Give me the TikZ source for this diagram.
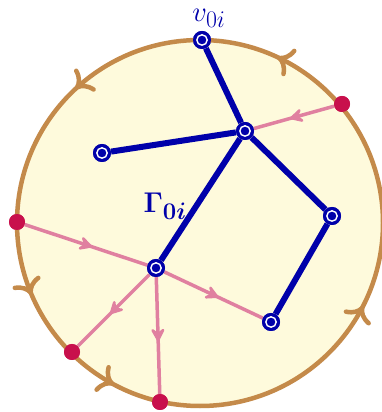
\documentclass[tikz,border=0pt]{standalone}
\usepackage{bm}
\usetikzlibrary{arrows.meta,decorations.markings}
\definecolor{cfill}{RGB}{254,250,220}
\definecolor{cedge}{RGB}{196,138,74}
\definecolor{myblue}{RGB}{0,0,170}
\definecolor{mypink}{RGB}{224,128,160}
\definecolor{myred}{RGB}{200,16,76}
\begin{document}
\begin{tikzpicture}[x=1pt,y=1pt,
  bnode/.style={circle, fill=myblue, minimum size=18pt, inner sep=0pt,
    path picture={\draw[white, line width=1.4pt] (path picture bounding box.center) circle (5.2pt);}},
  rdot/.style={circle, fill=myred, minimum size=16pt, inner sep=0pt},
  bedge/.style={draw=myblue, line width=6pt},
  pedge/.style={color=mypink, line width=3.5pt, postaction={decorate},
    decoration={markings, mark=at position 0.55 with {\arrow{Stealth[length=17pt,width=18pt,inset=7pt,round]}}}},
  rim/.style={color=cedge, line width=4.5pt, postaction={decorate},
    decoration={markings,
      mark=at position 0.1806 with {\arrow{To[length=15pt,width=30pt,line cap=round]}},
      mark=at position 0.369 with {\arrow{To[length=15pt,width=30pt,line cap=round]}},
      mark=at position 0.564 with {\arrow{To[length=15pt,width=30pt,line cap=round]}},
      mark=at position 0.672 with {\arrow{To[length=15pt,width=30pt,line cap=round]}},
      mark=at position 0.925 with {\arrow{To[length=15pt,width=30pt,line cap=round]}}}},
  lbl/.style={text=myblue, font=\fontsize{24.88}{30}\selectfont, inner sep=0pt, scale=1.15}
]
\useasboundingbox (0,0) rectangle (381,412);
\coordinate (O) at (200,189);
\fill[cfill] (O) circle (183);
% nodes
\node[bnode] (v) at (202,372) {};
\node[bnode] (A) at (245,281) {};
\node[bnode] (B) at (102,259) {};
\node[bnode] (C) at (332,196) {};
\node[bnode] (D) at (271,90) {};
\node[bnode] (E) at (156,144) {};
\node[rdot] (R1) at (342,308) {};
\node[rdot] (R2) at (17,190) {};
\node[rdot] (R3) at (72,60) {};
\node[rdot] (R4) at (160,10) {};
% pink edges
\draw[pedge] (R1) -- (A);
\draw[pedge] (R2) -- (E);
\draw[pedge] (E) -- (R3);
\draw[pedge] (E) -- (R4);
\draw[pedge] (E) -- (D);
% rim
\draw[rim] (O) circle (183);
% blue edges
\draw[bedge] (v) -- (A);
\draw[bedge] (A) -- (B);
\draw[bedge] (A) -- (C);
\draw[bedge] (A) -- (E);
\draw[bedge] (C) -- (D);
% redraw nodes on top
\foreach \p in {{202,372},{245,281},{102,259},{332,196},{271,90},{156,144}}
  \node[bnode] at (\p) {};
\foreach \p in {{342,308},{17,190},{72,60},{160,10}}
  \node[rdot] at (\p) {};
% labels
\node[lbl] (lv) at (209,394) {$v_{0i}$};
\node[lbl] (lg) at (165,206) {$\bm{\Gamma_{0i}}$};
\end{tikzpicture}
\end{document}
